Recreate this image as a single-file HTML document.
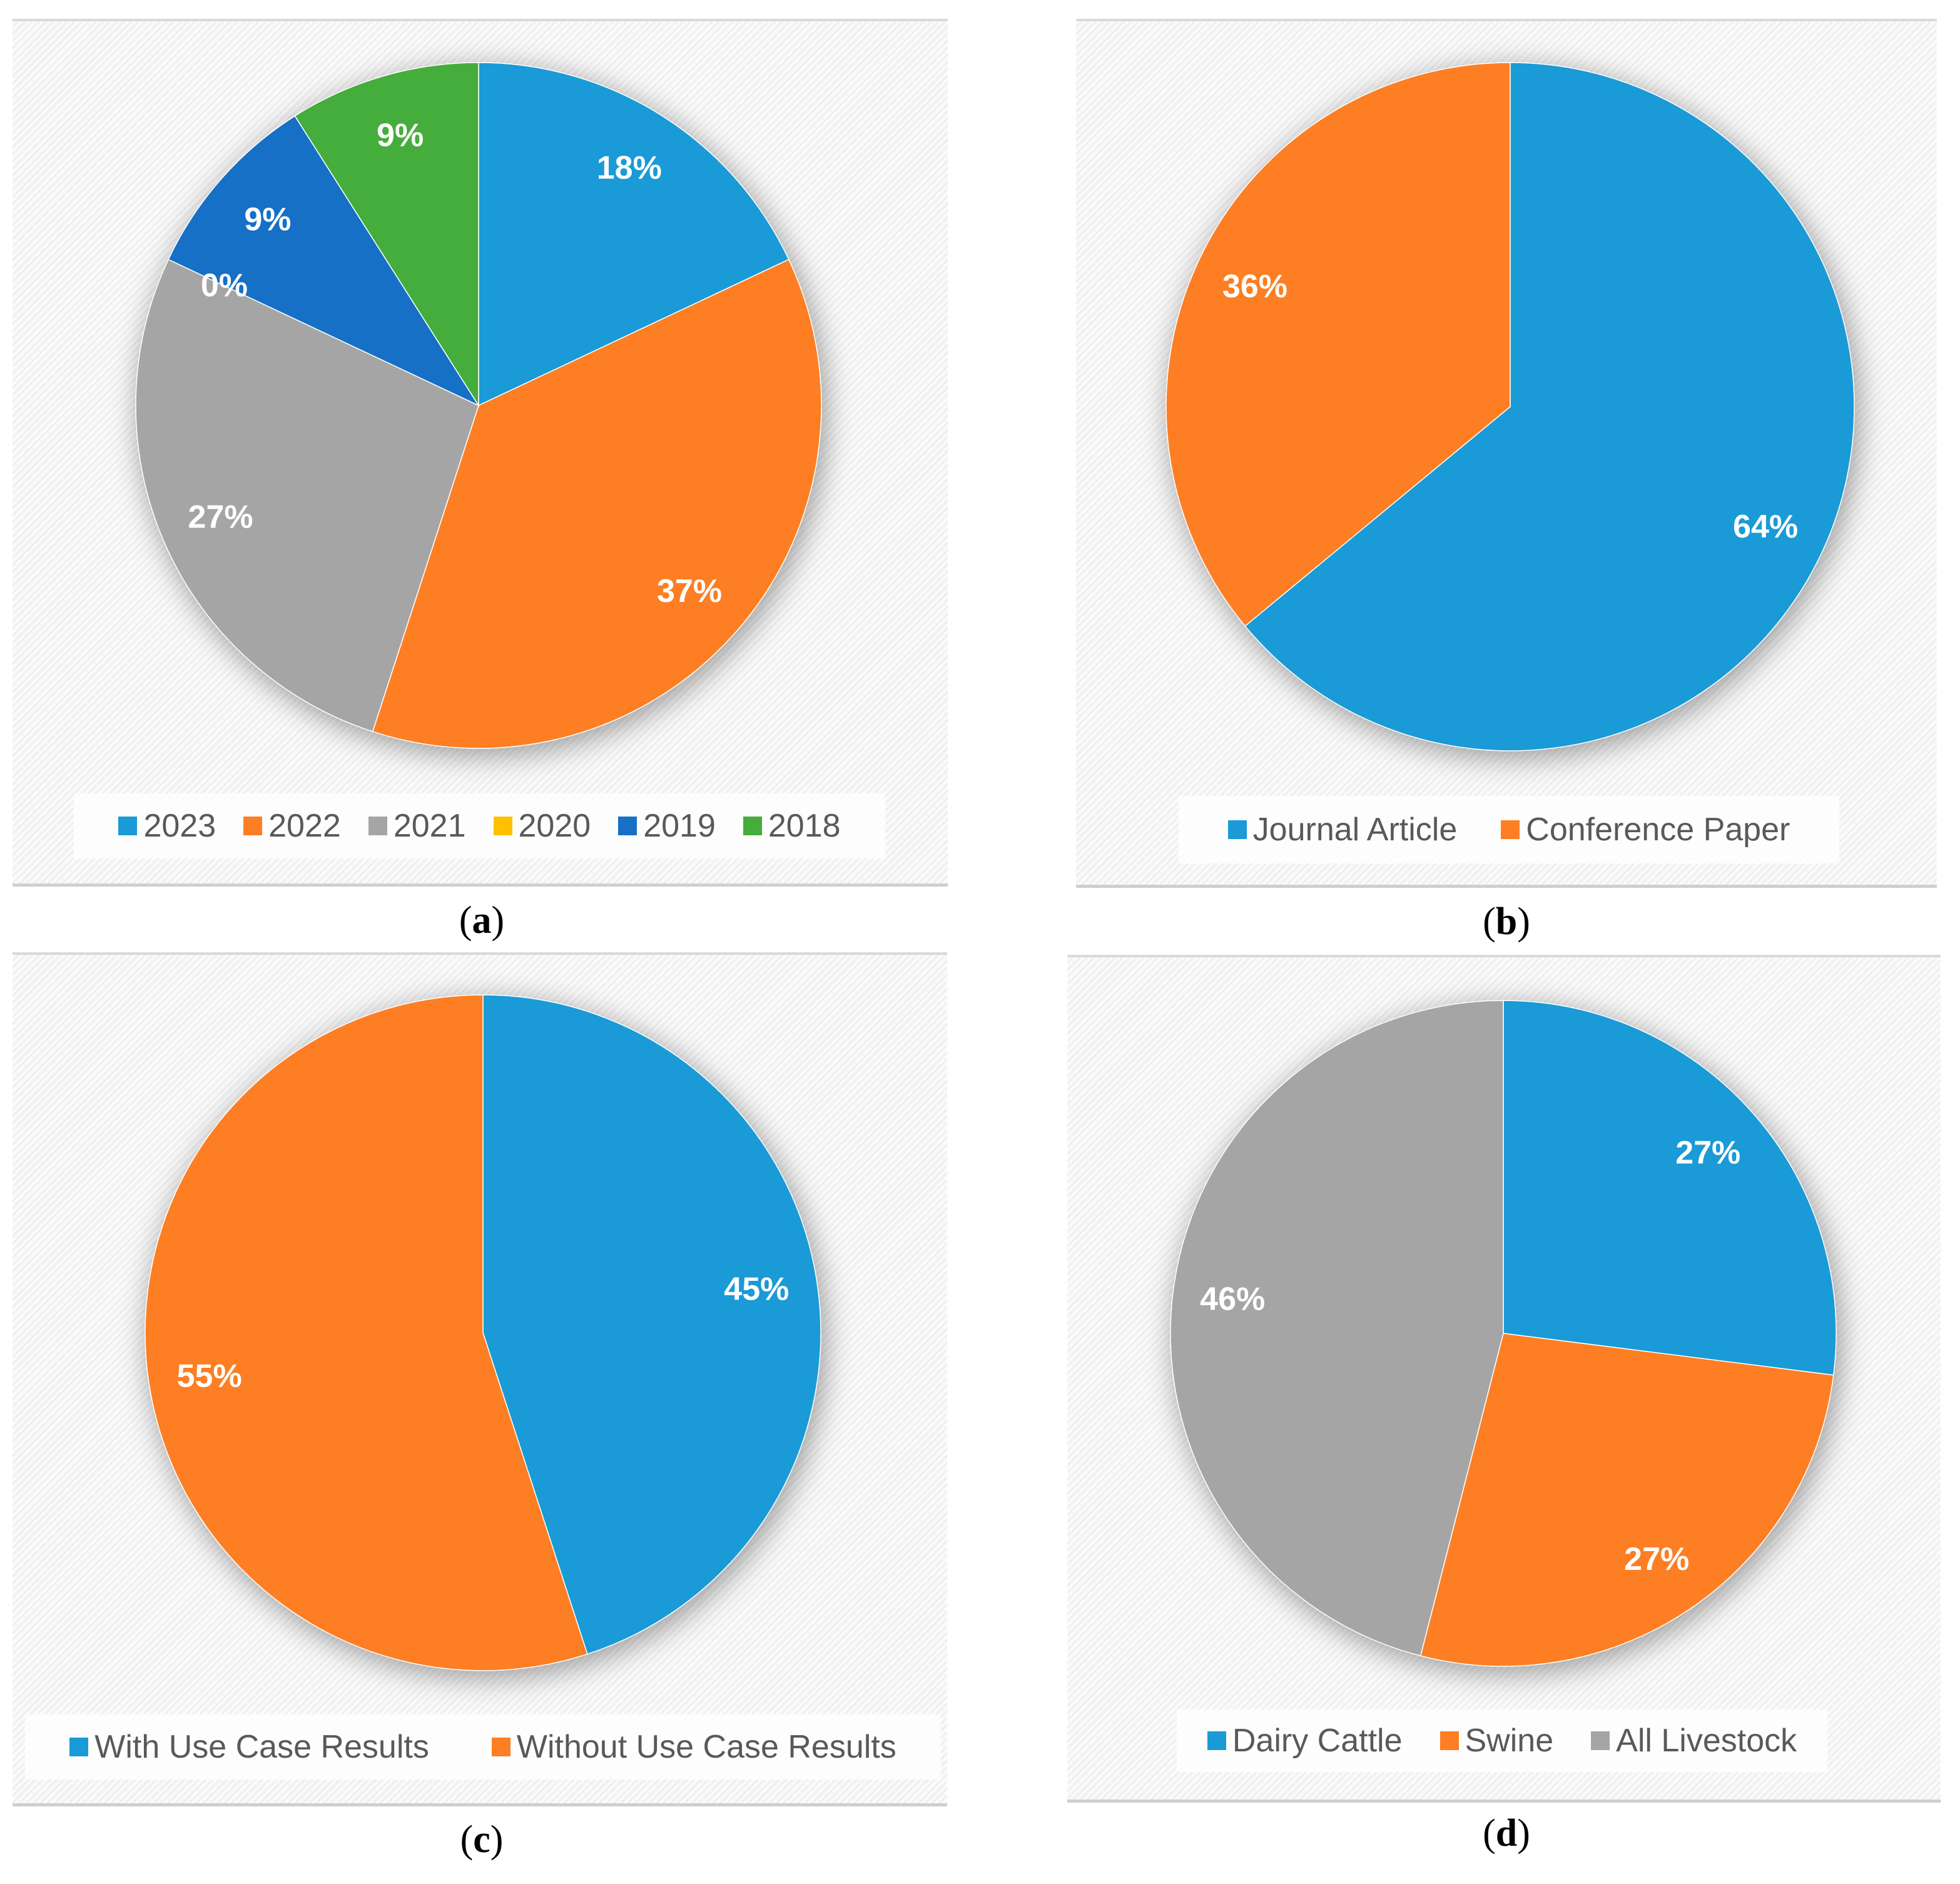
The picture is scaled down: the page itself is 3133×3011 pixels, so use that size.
<!DOCTYPE html>
<html><head><meta charset="utf-8"><style>
html,body{margin:0;padding:0;background:#fff;}
body{width:3133px;height:3011px;position:relative;overflow:hidden;font-family:"Liberation Sans",sans-serif;}
.panel{position:absolute;border-top:4px solid #d9d9d9;border-bottom:5px solid #cfcfcf;
background:repeating-linear-gradient(135deg,#fafafa 0 5px,#efefef 5px 8px);}
.legend{position:absolute;background:rgba(255,255,255,0.8);display:flex;justify-content:center;align-items:center;gap:44px;font-size:52px;color:#595959;}
.li{display:flex;align-items:center;gap:10px;}
.sw{width:30px;height:30px;display:inline-block;}
.cap{position:absolute;font-family:"Liberation Serif",serif;font-size:62px;transform:translateX(-50%);}
.cap b{font-weight:bold;}
svg{position:absolute;left:0;top:0;}
</style></head><body>
<div class="panel" style="left:20px;top:30px;width:1495px;height:1378px;"></div>
<div class="panel" style="left:1720px;top:30px;width:1376px;height:1380px;"></div>
<div class="panel" style="left:20px;top:1522px;width:1494px;height:1356px;"></div>
<div class="panel" style="left:1706px;top:1526px;width:1396px;height:1346px;"></div>

<svg width="3133" height="3011" id="chart">
<defs><filter id="sh" x="-20%" y="-20%" width="140%" height="140%"><feGaussianBlur stdDeviation="22"/></filter></defs>
</svg>

<div class="legend" style="left:118px;top:1268px;width:1297px;height:104px;">
<span class="li"><span class="sw" style="background:#1a9ad6"></span>2023</span>
<span class="li"><span class="sw" style="background:#fd7e23"></span>2022</span>
<span class="li"><span class="sw" style="background:#a5a5a5"></span>2021</span>
<span class="li"><span class="sw" style="background:#ffc000"></span>2020</span>
<span class="li"><span class="sw" style="background:#1570c6"></span>2019</span>
<span class="li"><span class="sw" style="background:#45ad3b"></span>2018</span>
</div>
<div class="legend" style="left:1884px;top:1272px;width:1056px;height:108px;gap:70px;">
<span class="li"><span class="sw" style="background:#1a9ad6"></span>Journal Article</span>
<span class="li"><span class="sw" style="background:#fd7e23"></span>Conference Paper</span>
</div>
<div class="legend" style="left:40px;top:2740px;width:1464px;height:104px;gap:100px;">
<span class="li"><span class="sw" style="background:#1a9ad6"></span>With Use Case Results</span>
<span class="li"><span class="sw" style="background:#fd7e23"></span>Without Use Case Results</span>
</div>
<div class="legend" style="left:1881px;top:2732px;width:1040px;height:100px;gap:60px;">
<span class="li"><span class="sw" style="background:#1a9ad6"></span>Dairy Cattle</span>
<span class="li"><span class="sw" style="background:#fd7e23"></span>Swine</span>
<span class="li"><span class="sw" style="background:#a5a5a5"></span>All Livestock</span>
</div>

<div class="cap" style="left:770px;top:1436px;">(<b>a</b>)</div>
<div class="cap" style="left:2408px;top:1438px;">(<b>b</b>)</div>
<div class="cap" style="left:770px;top:2905px;">(<b>c</b>)</div>
<div class="cap" style="left:2408px;top:2895px;">(<b>d</b>)</div>

<script>
const valuesA = [18, 37, 27, 0, 9, 9];
const colorsA = ["#1a9ad6","#fd7e23","#a5a5a5","#ffc000","#1570c6","#45ad3b"];
const valuesB = [64, 36];
const colorsB = ["#1a9ad6","#fd7e23"];
const valuesC = [45, 55];
const colorsC = ["#1a9ad6","#fd7e23"];
const valuesD = [27, 27, 46];
const colorsD = ["#1a9ad6","#fd7e23","#a5a5a5"];

const NS = "http://www.w3.org/2000/svg";
const svg = document.getElementById("chart");
function pt(cx, cy, r, a){ return [cx + r*Math.sin(a), cy - r*Math.cos(a)]; }
function drawPie(id, values, colors, cx, cy, r){
  const sh = document.createElementNS(NS, "circle");
  sh.setAttribute("cx", cx + 6); sh.setAttribute("cy", cy + 10); sh.setAttribute("r", r + 4);
  sh.setAttribute("fill", "rgba(0,0,0,0.35)"); sh.setAttribute("filter", "url(#sh)");
  
  
  svg.appendChild(sh);
  const total = values.reduce((s, v) => s + v, 0);
  let acc = 0;
  const labels = [];
  values.forEach((v, i) => {
    const a0 = acc / total * 2 * Math.PI; acc += v;
    const a1 = acc / total * 2 * Math.PI;
    if (v > 0) {
      const p0 = pt(cx, cy, r, a0), p1 = pt(cx, cy, r, a1);
      const large = (a1 - a0) > Math.PI ? 1 : 0;
      const path = document.createElementNS(NS, "path");
      path.setAttribute("d", `M${cx},${cy} L${p0[0]},${p0[1]} A${r},${r} 0 ${large} 1 ${p1[0]},${p1[1]} Z`);
      path.setAttribute("fill", colors[i]);
      path.setAttribute("stroke", "#fff"); path.setAttribute("stroke-width", "1.5");
      
      
      svg.appendChild(path);
    }
    labels.push([(a0 + a1) / 2, v, i]);
  });
  labels.forEach(([am, v, i]) => {
    const lp = pt(cx, cy, r * 0.82, am);
    const t = document.createElementNS(NS, "text");
    t.setAttribute("x", lp[0]); t.setAttribute("y", lp[1]);
    t.setAttribute("text-anchor", "middle"); t.setAttribute("dominant-baseline", "central");
    t.setAttribute("font-family", "Liberation Sans, sans-serif");
    t.setAttribute("font-weight", "bold"); t.setAttribute("font-size", "52");
    t.setAttribute("fill", "#fff");
    t.textContent = Math.round(v / total * 100) + "%";
    
    
    svg.appendChild(t);
  });
}
drawPie("pie-a", valuesA, colorsA, 765, 648, 548);
drawPie("pie-b", valuesB, colorsB, 2414, 650, 550);
drawPie("pie-c", valuesC, colorsC, 772, 2130, 540);
drawPie("pie-d", valuesD, colorsD, 2403, 2131, 532);
</script>
</body></html>
